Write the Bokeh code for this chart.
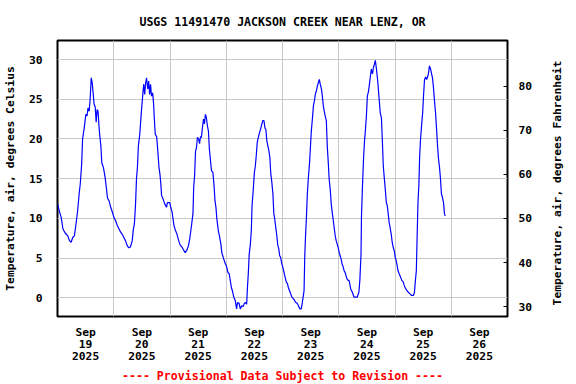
import math
from bokeh.plotting import figure
from bokeh.layouts import row
from bokeh.models import Range1d, LinearAxis, FixedTicker, Title, Label
from bokeh.embed import file_html
from bokeh.resources import INLINE

# Hours elapsed since 2025-09-19 00:00 (local) and air temperature in deg C
hours = [0.0, 0.2, 0.9, 1.6, 2.3, 3.0, 3.7, 4.4, 5.1, 5.8, 6.5, 7.2, 7.9, 8.6, 9.3, 9.7, 10.3, 10.7, 11.4, 12.1,
         12.6, 13.0, 13.5, 13.9, 14.4, 14.8, 15.2, 15.6, 16.1, 16.5, 16.9, 17.3, 17.8, 18.5, 18.9, 19.6, 20.3, 20.9,
         21.3, 22.0, 22.7, 23.4, 24.1, 24.8, 25.5, 26.2, 26.9, 27.6, 28.3, 29.0, 29.7, 30.4, 31.1, 31.9, 32.3, 32.8,
         33.3, 33.7, 34.1, 34.5, 35.1, 35.7, 36.1, 36.5, 36.8, 37.2, 37.6, 38.0, 38.5, 38.9, 39.3, 39.7, 40.1, 40.6,
         41.0, 41.4, 41.7, 42.3, 42.7, 43.3, 43.7, 44.1, 44.4, 45.1, 45.8, 46.5, 46.9, 47.9, 48.3, 48.9, 49.3, 49.7,
         50.3, 51.0, 51.7, 52.4, 53.1, 53.8, 54.5, 55.2, 55.9, 56.4, 57.0, 57.8, 58.1, 58.5, 58.9, 59.3, 59.7, 60.2,
         60.6, 61.0, 61.4, 61.9, 62.3, 62.7, 63.1, 63.5, 64.0, 64.4, 64.8, 65.2, 65.7, 66.3, 66.8, 67.2, 67.6, 68.0,
         68.6, 69.2, 69.7, 70.1, 70.9, 71.6, 72.1, 72.7, 73.3, 73.7, 74.2, 74.7, 75.2, 75.8, 76.4, 76.8, 77.5, 78.0,
         78.6, 79.2, 79.7, 80.3, 80.7, 81.0, 81.4, 81.8, 82.3, 82.7, 83.0, 83.5, 84.0, 84.4, 84.8, 85.2, 85.6, 86.2,
         86.8, 87.2, 87.6, 88.1, 88.5, 88.9, 89.3, 89.7, 90.2, 90.6, 91.0, 91.4, 91.9, 92.3, 92.7, 93.1, 93.5, 94.0,
         94.4, 94.8, 95.2, 95.7, 96.1, 96.5, 97.1, 97.6, 98.1, 98.5, 99.0, 99.5, 100.0, 100.6, 101.1, 101.7, 102.3,
         102.8, 103.4, 104.0, 104.4, 104.8, 105.2, 105.5, 105.8, 106.2, 106.6, 107.1, 107.5, 107.9, 108.3, 108.8,
         109.2, 109.6, 110.0, 110.4, 110.9, 111.3, 111.7, 112.1, 112.6, 113.0, 113.4, 113.8, 114.2, 114.7, 115.1,
         115.5, 115.9, 116.4, 116.8, 117.2, 117.6, 118.1, 118.5, 118.9, 119.3, 119.7, 120.2, 120.6, 121.0, 121.4,
         121.9, 122.3, 122.7, 123.1, 123.5, 124.0, 124.4, 124.7, 125.1, 125.8, 126.5, 127.2, 127.9, 128.6, 129.0,
         129.5, 129.7, 130.1, 130.6, 131.0, 131.4, 131.8, 132.2, 132.7, 133.1, 133.5, 133.9, 134.4, 134.8, 135.2,
         135.6, 136.0, 136.5, 136.9, 137.3, 137.7, 138.2, 138.6, 139.0, 139.4, 139.9, 140.3, 140.7, 141.1, 141.5,
         142.0, 142.4, 142.8, 143.2, 143.7, 144.1, 144.5, 144.9, 145.3, 145.8, 146.4, 146.9, 147.5, 147.9, 148.3,
         148.7, 149.1, 149.7, 150.4, 151.1, 151.9, 152.3, 152.7, 153.1, 153.4, 153.8, 154.2, 154.5, 154.9, 155.4,
         155.8, 156.2, 156.6, 157.1, 157.5, 157.9, 158.3, 158.7, 159.2, 159.6, 160.0, 160.4, 160.9, 161.3, 161.7,
         162.1, 162.5, 163.0, 163.4, 163.8, 164.2, 164.7, 165.1, 165.4]

temp_c = [11.8, 11.6, 10.8, 10.1, 8.7, 8.3, 8.0, 7.8, 7.2, 7.0, 7.6, 7.8, 9.3, 11.0, 13.3, 14.3, 16.8, 20.0, 21.4, 23.1,
          22.9, 23.9, 23.5, 24.9, 27.7, 27.1, 25.8, 24.4, 24.0, 22.1, 23.7, 23.5, 21.2, 19.1, 17.0, 16.4, 15.2, 13.7,
          12.6, 12.2, 11.4, 10.8, 10.1, 9.7, 9.1, 8.7, 8.3, 8.0, 7.6, 7.2, 6.6, 6.3, 6.4, 7.2, 8.5, 9.3,
          11.8, 15.0, 16.4, 19.1, 20.6, 23.1, 24.6, 26.0, 26.9, 25.6, 27.1, 27.7, 26.3, 27.3, 25.6, 26.9, 25.4, 25.8,
          24.4, 22.1, 20.6, 20.3, 18.9, 16.4, 15.6, 14.3, 12.9, 12.4, 11.8, 11.4, 12.0, 12.0, 11.4, 10.8, 9.9, 9.1,
          8.5, 8.0, 7.2, 6.6, 6.4, 6.0, 5.7, 6.0, 6.6, 7.4, 8.7, 10.6, 13.9, 15.4, 18.5, 18.9, 20.2, 20.0,
          19.4, 20.3, 20.2, 21.6, 22.5, 21.9, 23.1, 22.7, 21.6, 21.0, 18.7, 17.5, 16.0, 15.8, 14.1, 12.2, 11.4, 9.9,
          8.5, 7.6, 6.8, 5.7, 4.9, 4.3, 4.0, 3.2, 3.0, 2.2, 1.3, 0.8, 0.1, -0.3, -1.4, -0.6, -0.7, -1.4,
          -1.0, -1.1, -0.7, -0.6, -0.8, 1.1, 3.0, 5.5, 6.8, 8.5, 11.6, 13.5, 15.8, 16.6, 17.9, 19.5, 20.1, 20.8,
          21.4, 21.9, 22.3, 22.3, 21.4, 21.2, 19.8, 19.2, 18.5, 17.7, 15.6, 14.7, 13.1, 10.6, 9.9, 8.9, 8.0, 6.6,
          6.2, 5.3, 5.1, 4.3, 3.9, 3.4, 2.6, 2.0, 1.8, 1.3, 0.9, 0.5, 0.1, -0.1, -0.3, -0.6, -0.7,
          -1.0, -1.4, -1.4, -0.7, 0.1, 0.9, 5.3, 7.6, 10.1, 13.1, 15.4, 16.8, 18.9, 21.0, 22.7,
          24.2, 24.8, 25.6, 26.0, 26.7, 27.1, 27.5, 26.9, 26.3, 25.4, 24.2, 23.5, 22.9, 22.3, 19.1,
          17.2, 15.0, 13.5, 11.8, 10.8, 9.9, 8.7, 7.8, 7.2, 6.8, 6.4, 5.7, 5.3, 4.9, 4.3,
          3.9, 3.4, 3.2, 2.8, 2.4, 2.2, 2.2, 1.8, 1.1, 0.7, 0.1, 0.1, 0.1, 0.7, 2.2,
          5.5, 10.3, 13.9, 17.7, 19.8, 21.2, 22.9, 25.4, 26.0, 26.9, 27.9, 28.8, 28.2, 29.0, 29.4,
          29.9, 29.0, 27.7, 26.3, 24.8, 23.3, 22.7, 19.8, 16.6, 15.2, 13.5, 12.0, 11.6, 10.6, 9.5,
          8.7, 8.0, 7.0, 6.4, 5.9, 5.1, 4.7, 4.1, 3.4, 3.0, 2.6, 2.2, 2.0, 1.6, 1.3,
          1.1, 0.9, 0.7, 0.5, 0.3, 0.3, 0.7, 2.2, 3.4, 7.2, 12.0, 14.3, 17.7, 20.0, 21.9,
          23.3, 25.6, 27.5, 27.8, 27.5, 27.8, 28.3, 29.2, 28.8, 28.2, 27.7, 26.5, 24.6, 23.3, 21.4,
          19.4, 17.7, 16.4, 15.0, 13.1, 12.7, 12.0, 10.6, 10.3]

day_labels = ["Sep\n19\n2025", "Sep\n20\n2025", "Sep\n21\n2025", "Sep\n22\n2025",
              "Sep\n23\n2025", "Sep\n24\n2025", "Sep\n25\n2025", "Sep\n26\n2025"]
c_ticks = [0, 5, 10, 15, 20, 25, 30]
f_ticks = [30, 40, 50, 60, 70, 80]

title_text = "USGS 11491470 JACKSON CREEK NEAR LENZ, OR"
footer_text = "---- Provisional Data Subject to Revision ----"
left_label = "Temperature, air, degrees Celsius"
right_label = "Temperature, air, degrees Fahrenheit"

FONT = "DejaVu Sans Mono"
TICK_SIZE = "11.3px"

x_days = [h / 24.0 for h in hours]
c_lo, c_hi = -2.35, 32.4

MAIN_W = 546
p = figure(width=MAIN_W, height=384, output_backend="svg", toolbar_location=None,
           x_range=Range1d(0, 8), y_range=Range1d(c_lo, c_hi),
           min_border_left=51, min_border_right=MAIN_W - 507, min_border_top=40, min_border_bottom=68)
p.background_fill_color = "white"
p.border_fill_color = "white"
p.outline_line_color = "black"
p.outline_line_width = 2

p.title.text = title_text
p.title.align = "center"
p.title.text_font = FONT
p.title.text_font_style = "bold"
p.title.text_font_size = "11.6px"
p.title.text_color = "black"
p.title.standoff = 24

# bottom axis: labels at noon, grid at midnight
xa = p.xaxis[0]
xa.ticker = FixedTicker(ticks=[i + 0.5 for i in range(len(day_labels))])
xa.major_label_overrides = {i + 0.5: lbl for i, lbl in enumerate(day_labels)}
xa.axis_line_color = None
xa.major_tick_line_color = None
xa.minor_tick_line_color = None
xa.major_label_standoff = 3
xa.major_label_text_font = FONT
xa.major_label_text_font_style = "bold"
xa.major_label_text_font_size = TICK_SIZE
xa.major_label_text_line_height = 0.95
xa.major_label_text_color = "black"
p.xgrid.ticker = FixedTicker(ticks=list(range(1, 8)))
p.xgrid.grid_line_color = "#c8c8c8"

ya = p.yaxis[0]
ya.ticker = FixedTicker(ticks=c_ticks)
ya.axis_line_color = None
ya.major_tick_line_color = None
ya.minor_tick_line_color = None
ya.major_label_standoff = 9
ya.major_label_text_font = FONT
ya.major_label_text_font_style = "bold"
ya.major_label_text_font_size = TICK_SIZE
ya.major_label_text_color = "black"
ya.axis_label = left_label
ya.axis_label_standoff = 9
ya.axis_label_text_font = FONT
ya.axis_label_text_font_style = "bold"
ya.axis_label_text_font_size = TICK_SIZE
ya.axis_label_text_color = "black"
p.ygrid.ticker = FixedTicker(ticks=c_ticks)
p.ygrid.grid_line_color = "#c8c8c8"

p.extra_y_ranges = {"f": Range1d(c_lo * 1.8 + 32, c_hi * 1.8 + 32)}
ra = LinearAxis(y_range_name="f", ticker=FixedTicker(ticks=f_ticks))
ra.axis_line_color = None
ra.major_tick_in = 4
ra.major_tick_out = 0
ra.major_tick_line_color = "black"
ra.minor_tick_line_color = None
ra.major_label_standoff = 11
ra.major_label_text_font = FONT
ra.major_label_text_font_style = "bold"
ra.major_label_text_font_size = TICK_SIZE
ra.major_label_text_color = "black"
p.add_layout(ra, "right")

footer = Title(text=footer_text, align="center", text_font=FONT, text_font_style="bold",
               text_font_size="11.6px", text_color="#ff0000", standoff=0)
p.add_layout(footer, "below")

p.line(x_days, temp_c, line_color="#0000ff", line_width=1.2)

# narrow companion figure holding the right-hand axis title (reads bottom to top)
SIDE_W = 576 - MAIN_W
side = figure(width=SIDE_W, height=384, output_backend="svg", toolbar_location=None,
              x_range=Range1d(0, 1), y_range=Range1d(0, 1), x_axis_type=None, y_axis_type=None,
              min_border=0, min_border_left=0, min_border_right=0, min_border_top=40, min_border_bottom=68)
side.outline_line_color = None
side.background_fill_color = "white"
side.border_fill_color = "white"
side.grid.visible = False
side.add_layout(Label(x=11, y=133.5, x_units="screen", y_units="screen", text=right_label,
                      angle=math.pi / 2, text_align="center", text_baseline="middle",
                      text_font=FONT, text_font_style="bold", text_font_size=TICK_SIZE,
                      text_color="black"))

layout = row(p, side, spacing=0)
open("out.html", "w").write(file_html(layout, INLINE))
